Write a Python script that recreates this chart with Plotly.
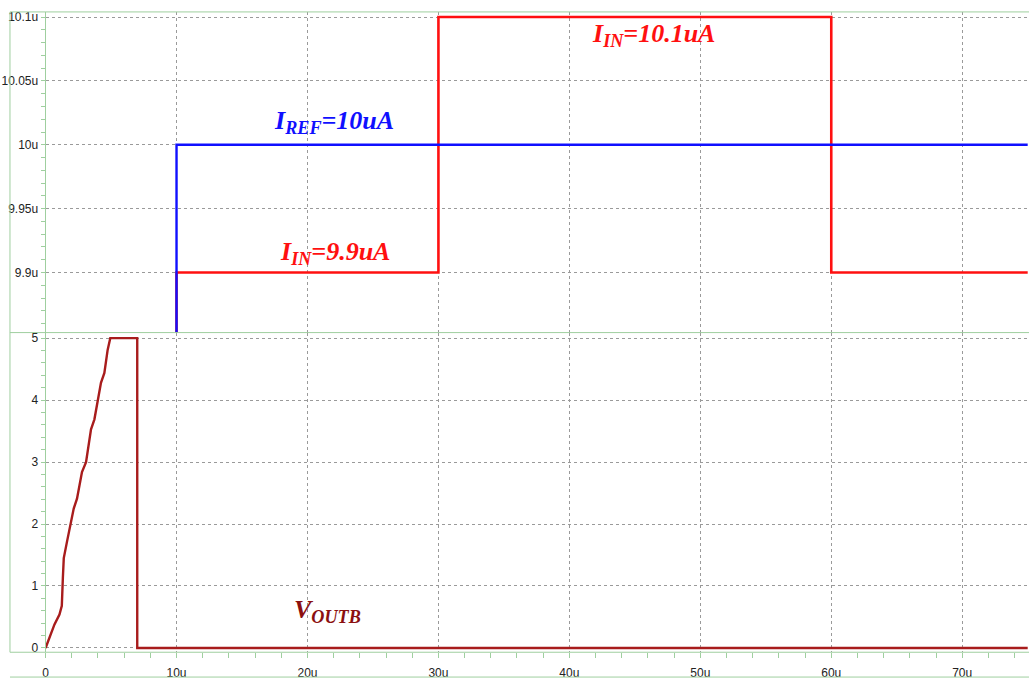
import plotly.graph_objects as go
from plotly.subplots import make_subplots

# ---- data (time in microseconds, currents in microamps, voltage in volts) ----
t_ref = [0, 10, 75]
i_ref = [0, 10.0, 10.0]

t_in = [0, 10, 30, 60, 75]
i_in = [0, 9.9, 10.1, 9.9, 9.9]

t_out = [0.0, 0.30, 0.68, 1.06, 1.24, 1.32, 1.39, 1.64, 1.90, 2.15, 2.40, 2.78,
         3.09, 3.47, 3.73, 3.98, 4.23, 4.49, 4.74, 4.94, 7.0, 7.0, 75.0]
v_out = [0.0, 0.17, 0.38, 0.54, 0.68, 1.13, 1.45, 1.72, 1.98, 2.25, 2.41, 2.84,
         3.00, 3.53, 3.69, 4.01, 4.28, 4.44, 4.81, 5.0, 5.0, 0.0, 0.0]

x_tickvals = [0, 10, 20, 30, 40, 50, 60, 70]
x_ticktext = ["0", "10u", "20u", "30u", "40u", "50u", "60u", "70u"]
i_tickvals = [9.9, 9.95, 10.0, 10.05, 10.1]
i_ticktext = ["9.9u", "9.95u", "10u", "10.05u", "10.1u"]
v_tickvals = [0, 1, 2, 3, 4, 5]
v_ticktext = ["0", "1", "2", "3", "4", "5"]

W, H = 1029, 688
GREEN = "#9fcf9f"
GRID = "#9a9a9a"


def fx(px):
    return px / W


def fy(py):
    return 1 - py / H


fig = make_subplots(rows=2, cols=1, shared_xaxes=False)

fig.add_trace(go.Scatter(x=t_in, y=i_in, mode="lines", line_shape="hv",
                         line=dict(color="#ff1010", width=2.6), showlegend=False),
              row=1, col=1)
fig.add_trace(go.Scatter(x=t_ref, y=i_ref, mode="lines", line_shape="hv",
                         line=dict(color="#1010ff", width=2.4), showlegend=False),
              row=1, col=1)
fig.add_trace(go.Scatter(x=t_out, y=v_out, mode="lines",
                         line=dict(color="#a81c1c", width=2.4), showlegend=False),
              row=2, col=1)

tick_font = dict(family="Liberation Sans, Arial, sans-serif", size=12, color="#222222")
xdom = [fx(42.7), 1.0]

common_x = dict(range=[0, 75.1], domain=xdom, showgrid=True, gridcolor=GRID,
                griddash="3px,3px", gridwidth=1, zeroline=False, showline=False)

fig.update_layout(
    width=W, height=H,
    margin=dict(l=0, r=0, t=0, b=0),
    paper_bgcolor="white", plot_bgcolor="white",
    xaxis=dict(**common_x, tickmode="linear", tick0=0, dtick=10,
               showticklabels=False, ticks=""),
    xaxis2=dict(**common_x, tickvals=x_tickvals, ticktext=x_ticktext,
                ticks="outside", ticklen=5, tickcolor=GREEN, tickfont=tick_font,
                ticklabelstandoff=4,
                minor=dict(tickmode="linear", tick0=0, dtick=2, ticks="outside",
                           ticklen=5, tickcolor=GREEN, showgrid=False)),
    yaxis=dict(range=[9.853, 10.104], domain=[fy(333), fy(10)],
               tickvals=i_tickvals, ticktext=i_ticktext, tickfont=tick_font,
               ticks="outside", ticklen=4, tickcolor=GREEN,
               showgrid=True, gridcolor=GRID, griddash="3px,3px", gridwidth=1,
               zeroline=False, showline=True, linecolor=GREEN, linewidth=1,
               minor=dict(tickmode="linear", tick0=9.9, dtick=0.01, ticks="outside",
                          ticklen=4, tickcolor=GREEN, showgrid=False)),
    yaxis2=dict(range=[-0.069, 5.09], domain=[fy(655), fy(333)],
                tickvals=v_tickvals, ticktext=v_ticktext, tickfont=tick_font,
                ticks="outside", ticklen=4, tickcolor=GREEN,
                showgrid=True, gridcolor=GRID, griddash="3px,3px", gridwidth=1,
                zeroline=False, showline=True, linecolor=GREEN, linewidth=1,
                minor=dict(tickmode="linear", tick0=0, dtick=0.2, ticks="outside",
                           ticklen=4, tickcolor=GREEN, showgrid=False)),
)

# frame lines around the two panels
frame = [
    (7, 10, 7, 655),
    (7, 10, W, 10),
    (7, 333, W, 333),
    (7, 655, W, 655),
    (7, 680, W, 680),
]
for x0, y0, x1, y1 in frame:
    fig.add_shape(type="line", xref="paper", yref="paper",
                  x0=fx(x0), y0=fy(y0), x1=fx(x1), y1=fy(y1),
                  line=dict(color=GREEN, width=1), layer="above")

label_font = "Liberation Serif, Times New Roman, serif"
labels = [
    ("x", "y", 41.6, 10.086, "<b><i>I<sub>IN</sub>=10.1uA</i></b>", "#ff1010"),
    ("x", "y", 17.3, 10.018, "<b><i>I<sub>REF</sub>=10uA</i></b>", "#1010ff"),
    ("x", "y", 17.75, 9.915, "<b><i>I<sub>IN</sub>=9.9uA</i></b>", "#ff1010"),
    ("x2", "y2", 18.8, 0.60, "<b><i>V<sub>OUTB</sub></i></b>", "#8b1010"),
]
for xr, yr, xv, yv, txt, col in labels:
    fig.add_annotation(xref=xr, yref=yr, x=xv, y=yv, text=txt, showarrow=False,
                       xanchor="left", yanchor="middle",
                       font=dict(family=label_font, size=26, color=col))

fig.write_html("out.html")
